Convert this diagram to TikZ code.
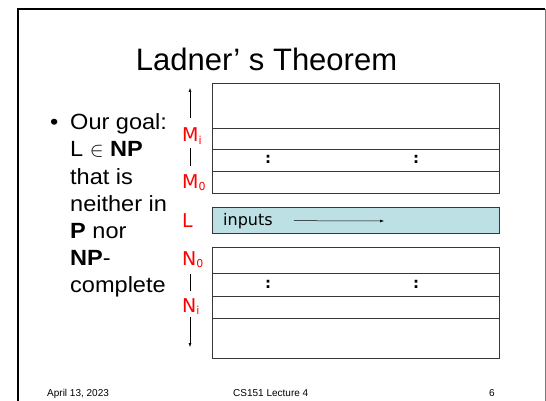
\documentclass[tikz,border=0pt]{standalone}
\usepackage{fontspec}
\setmainfont{Liberation Sans}
\newfontfamily\bodyfont[FakeStretch=1.07]{Liberation Sans}
\newfontfamily\hand{DejaVu Sans}
\usetikzlibrary{arrows.meta}
\definecolor{lcyan}{RGB}{188,224,227}
\definecolor{rule}{RGB}{55,55,55}
\definecolor{framegray}{RGB}{120,120,120}
\newcommand{\lsub}[1]{\raisebox{-2pt}{\fontsize{11}{11}\selectfont #1}}
\begin{document}
\begin{tikzpicture}[x=1pt,y=-1pt,
  cell/.style={draw=rule, line width=0.9pt, minimum width=287pt, inner sep=0pt, outer sep=0pt, anchor=north west},
  lab/.style={text=red, font=\hand\fontsize{19}{19}\selectfont, inner sep=0pt, text height=14pt, text depth=0pt, anchor=base west},
  body/.style={font=\bodyfont\fontsize{22}{22}\selectfont, inner sep=0pt, anchor=base west},
  foot/.style={font=\fontsize{10}{10}\selectfont, inner sep=0pt, anchor=base west},
  arr/.style={line width=0.5pt, -{Latex[length=4pt,width=3pt]}},
  tick/.style={line width=0.6pt},
  dots/.style={font=\hand\bfseries\fontsize{15}{15}\selectfont, inner sep=0pt}]
\useasboundingbox (0,0) rectangle (546,401);

% slide frame
\draw[line width=2pt] (18,401) -- (18,9) -- (545,9);
\draw[framegray, line width=0.8pt] (545,9) -- (545,401);

% title
\node[font=\fontsize{31}{31}\selectfont, inner sep=0pt, anchor=base] (title) at (266.5,71) {Ladner’ s Theorem};

% bullet text
\node[body] (bul) at (50,130) {•};
\node[body] (t1) at (70,130) {Our goal:};
\node[body] (t2) at (70,157) {L $\in$ \textbf{NP}};
\node[body] (t3) at (70,184) {that is};
\node[body] (t4) at (70,211) {neither in};
\node[body] (t5) at (70,238) {\textbf{P} nor};
\node[body] (t6) at (70,265) {\textbf{NP}-};
\node[body] (t7) at (70,292) {complete};

% machines M_i ... M_0
\node[cell, minimum height=45pt] (m3) at (212,83) {};
\node[cell, minimum height=21pt] (m2) at (212,128) {};
\node[cell, minimum height=22pt] (m1) at (212,149) {};
\node[cell, minimum height=22pt] (m0) at (212,171) {};
\node[dots] (mc1) at (268,159) {:};
\node[dots] (mc2) at (416,159) {:};

% the language L
\node[cell, fill=lcyan, minimum height=26pt] (lrow) at (212,207) {};
\node[font=\hand\fontsize{16}{16}\selectfont, inner sep=0pt, anchor=base west] (inp) at (223,225) {inputs};
\coordinate (inEnd) at (384,221);
\draw[arr, shorten <=21pt] (inp.east) -- (inEnd);

% reductions N_0 ... N_i
\node[cell, minimum height=26pt] (n0) at (212,247) {};
\node[cell, minimum height=23pt] (n1) at (212,273) {};
\node[cell, minimum height=22pt] (n2) at (212,296) {};
\node[cell, minimum height=40pt] (n3) at (212,318) {};
\node[dots] (nc1) at (268,284) {:};
\node[dots] (nc2) at (416,284) {:};

% side labels
\coordinate (axis) at (190,0);
\node[lab] (Mi) at (182,142) {M\lsub{i}};
\node[lab] (M0) at (182,188) {M\lsub{0}};
\node[lab] (L)  at (182,227) {L};
\node[lab] (N0) at (182,265) {N\lsub{0}};
\node[lab] (Ni) at (182,312) {N\lsub{i}};
\coordinate (upTip) at (190,88);
\coordinate (downTip) at (190,347);
\draw[arr] ([yshift=10pt]Mi.north -| axis) -- (upTip);
\draw[tick, shorten <=6pt, shorten >=8pt] (Mi.south -| axis) -- (M0.north -| axis);
\draw[tick, shorten <=9pt, shorten >=7pt] (N0.south -| axis) -- (Ni.north -| axis);
\draw[arr] ([yshift=-5pt]Ni.south -| axis) -- (downTip);

% footer
\node[foot] (date) at (47,396) {April 13, 2023};
\node[foot] (course) at (233,396) {CS151 Lecture 4};
\node[foot] (page) at (489,396) {6};
\end{tikzpicture}
\end{document}
